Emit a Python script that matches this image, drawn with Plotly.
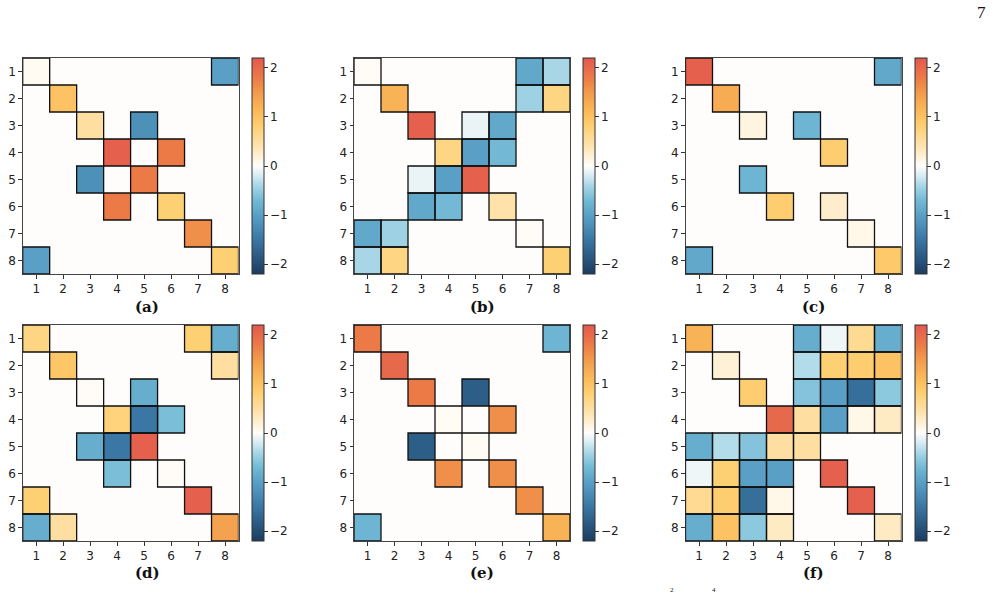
import plotly.graph_objects as go

labels = ["1", "2", "3", "4", "5", "6", "7", "8"]
panel_names = ["(a)", "(b)", "(c)", "(d)", "(e)", "(f)"]

mat_a = [
    [0.05, 0, 0, 0, 0, 0, 0, -1.0],
    [0, 1.0, 0, 0, 0, 0, 0, 0],
    [0, 0, 0.5, 0, -1.2, 0, 0, 0],
    [0, 0, 0, 2.1, 0, 1.8, 0, 0],
    [0, 0, -1.2, 0, 1.8, 0, 0, 0],
    [0, 0, 0, 1.8, 0, 0.8, 0, 0],
    [0, 0, 0, 0, 0, 0, 1.6, 0],
    [-1.0, 0, 0, 0, 0, 0, 0, 0.8],
]
mat_b = [
    [0.02, 0, 0, 0, 0, 0, -0.9, -0.4],
    [0, 1.2, 0, 0, 0, 0, -0.45, 0.7],
    [0, 0, 2.1, 0, -0.1, -0.9, 0, 0],
    [0, 0, 0, 0.7, -1.0, -0.7, 0, 0],
    [0, 0, -0.1, -1.0, 2.1, 0, 0, 0],
    [0, 0, -0.9, -0.7, 0, 0.45, 0, 0],
    [-0.9, -0.45, 0, 0, 0, 0, 0.02, 0],
    [-0.4, 0.7, 0, 0, 0, 0, 0, 0.8],
]
mat_c = [
    [2.1, 0, 0, 0, 0, 0, 0, -0.9],
    [0, 1.3, 0, 0, 0, 0, 0, 0],
    [0, 0, 0.15, 0, -0.75, 0, 0, 0],
    [0, 0, 0, 0, 0, 0.85, 0, 0],
    [0, 0, -0.75, 0, 0, 0, 0, 0],
    [0, 0, 0, 0.85, 0, 0.25, 0, 0],
    [0, 0, 0, 0, 0, 0, 0.1, 0],
    [-0.9, 0, 0, 0, 0, 0, 0, 0.9],
]
mat_d = [
    [0.7, 0, 0, 0, 0, 0, 0.8, -0.85],
    [0, 0.95, 0, 0, 0, 0, 0, 0.5],
    [0, 0, 0.02, 0, -0.85, 0, 0, 0],
    [0, 0, 0, 0.75, -1.5, -0.65, 0, 0],
    [0, 0, -0.85, -1.5, 2.1, 0, 0, 0],
    [0, 0, 0, -0.65, 0, 0.02, 0, 0],
    [0.8, 0, 0, 0, 0, 0, 2.1, 0],
    [-0.85, 0.5, 0, 0, 0, 0, 0, 1.4],
]
mat_e = [
    [1.8, 0, 0, 0, 0, 0, 0, -0.75],
    [0, 2.0, 0, 0, 0, 0, 0, 0],
    [0, 0, 1.8, 0, -1.8, 0, 0, 0],
    [0, 0, 0, 0.03, 0, 1.6, 0, 0],
    [0, 0, -1.8, 0, 0.03, 0, 0, 0],
    [0, 0, 0, 1.6, 0, 1.6, 0, 0],
    [0, 0, 0, 0, 0, 0, 1.6, 0],
    [-0.75, 0, 0, 0, 0, 0, 0, 1.2],
]
mat_f = [
    [1.2, 0, 0, 0, -0.85, -0.08, 0.6, -0.85],
    [0, 0.2, 0, 0, -0.35, 0.8, 0.85, 1.0],
    [0, 0, 0.85, 0, -0.6, -1.0, -1.6, -0.55],
    [0, 0, 0, 2.0, 0.5, -1.0, 0.1, 0.3],
    [-0.85, -0.35, -0.6, 0.5, 0.5, 0, 0, 0],
    [-0.08, 0.8, -1.0, -1.0, 0, 2.1, 0, 0],
    [0.6, 0.85, -1.6, 0.1, 0, 0, 2.1, 0],
    [-0.85, 1.0, -0.55, 0.3, 0, 0, 0, 0.3],
]
matrices = [mat_a, mat_b, mat_c, mat_d, mat_e, mat_f]

W, H = 994, 596
ZMAX = 2.2

colorscale = [
    [0.000, "#1b3c60"],
    [0.159, "#3a77a4"],
    [0.273, "#5aa0c6"],
    [0.340, "#72b9d5"],
    [0.400, "#9fd2e4"],
    [0.455, "#d6ecf3"],
    [0.500, "#fffdfb"],
    [0.591, "#fee4b0"],
    [0.682, "#fed074"],
    [0.750, "#fbbb5a"],
    [0.841, "#f29a4c"],
    [0.909, "#ec7a46"],
    [1.000, "#e3584f"],
]

# layout in pixels
col_x = [(22.7, 238.5), (354.0, 570.0), (685.5, 901.5)]
row_y = [(58.0, 274.0), (325.0, 541.0)]
cb_x = [252.0, 583.0, 915.0]
lab_x = [147.0, 482.0, 813.0]
lab_y = [307.0, 573.0]

fig = go.Figure()
layout = {}
shapes = []
annotations = []

x_vals = list(range(1, 9))
for k, mat in enumerate(matrices):
    r, c = divmod(k, 3)
    ax = "" if k == 0 else str(k + 1)
    x0p, x1p = col_x[c]
    y0p, y1p = row_y[r]
    xd = [x0p / W, x1p / W]
    yd = [1 - y1p / H, 1 - y0p / H]
    fig.add_trace(go.Heatmap(
        z=mat, x=x_vals, y=x_vals,
        xaxis="x" + ax, yaxis="y" + ax,
        zmin=-ZMAX, zmax=ZMAX, colorscale=colorscale,
        hoverinfo="skip",
        colorbar=dict(
            x=cb_x[c] / W, xanchor="left", xpad=0,
            y=(yd[0] + yd[1]) / 2, yanchor="middle", ypad=0,
            len=(yd[1] - yd[0]), lenmode="fraction",
            thickness=12, thicknessmode="pixels",
            outlinewidth=1, outlinecolor="#333333",
            tickvals=[-2, -1, 0, 1, 2],
            ticktext=["\u22122", "\u22121", "0", "1", "2"],
            ticks="outside", ticklen=3.5, tickwidth=1, tickcolor="#333333",
            tickfont=dict(family="DejaVu Sans", size=12, color="#222222"),
        ),
    ))
    axis_common = dict(
        showgrid=False, zeroline=False, showline=True, mirror=True,
        linecolor="#444444", linewidth=1,
        ticks="outside", ticklen=3.5, tickwidth=1, tickcolor="#333333",
        tickfont=dict(family="DejaVu Sans", size=12, color="#222222"),
        tickvals=x_vals, ticktext=labels, fixedrange=True,
    )
    layout["xaxis" + ax] = dict(axis_common, domain=xd, range=[0.5, 8.5],
                                anchor="y" + ax)
    layout["yaxis" + ax] = dict(axis_common, domain=yd, range=[8.5, 0.5],
                                anchor="x" + ax)
    for i, row in enumerate(mat):
        for j, v in enumerate(row):
            if v != 0:
                shapes.append(dict(
                    type="rect", xref="x" + ax, yref="y" + ax,
                    x0=x_vals[j] - 0.5, x1=x_vals[j] + 0.5,
                    y0=x_vals[i] - 0.5, y1=x_vals[i] + 0.5,
                    line=dict(color="#111111", width=1.3),
                    fillcolor="rgba(0,0,0,0)", layer="above",
                ))
    annotations.append(dict(
        text="<b>" + panel_names[k] + "</b>", xref="paper", yref="paper",
        x=lab_x[c] / W, y=1 - lab_y[r] / H, xanchor="center", yanchor="middle",
        showarrow=False,
        font=dict(family="DejaVu Serif", size=15, color="#111111"),
    ))

annotations.append(dict(
    text="7", xref="paper", yref="paper", x=981 / W, y=1 - 13 / H,
    xanchor="center", yanchor="middle", showarrow=False,
    font=dict(family="Liberation Serif", size=17, color="#111111"),
))
for t, xp in [("2", 672), ("4", 714)]:
    annotations.append(dict(
        text=t, xref="paper", yref="paper", x=xp / W, y=0.0,
        xanchor="center", yanchor="bottom", showarrow=False,
        font=dict(family="Liberation Serif", size=7, color="#111111"),
    ))

fig.update_layout(
    width=W, height=H, margin=dict(l=0, r=0, t=0, b=0),
    paper_bgcolor="white", plot_bgcolor="white",
    shapes=shapes, annotations=annotations, showlegend=False,
    **layout,
)
fig.write_html("out.html")
